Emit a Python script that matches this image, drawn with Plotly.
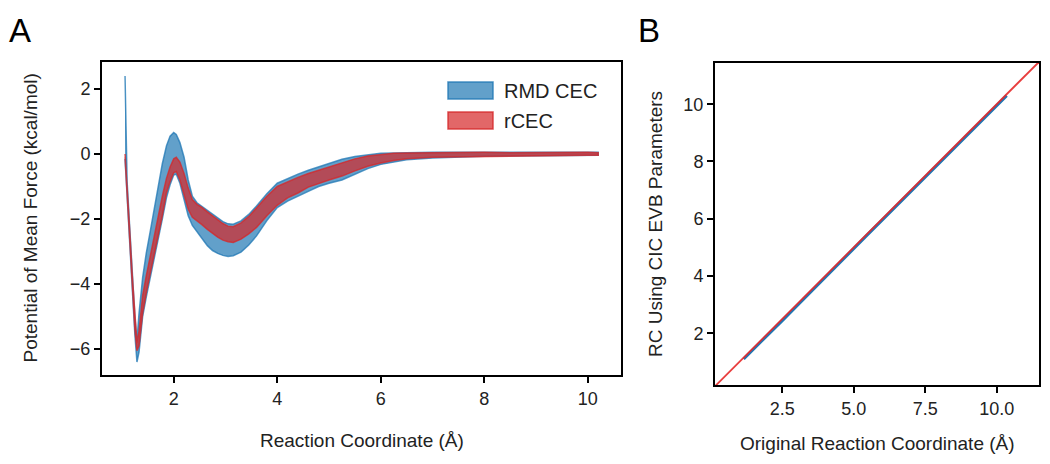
import plotly.graph_objects as go

# ---------------- Panel A data ----------------
rc_x = [1.06, 1.10, 1.15, 1.20, 1.25, 1.29, 1.33, 1.40, 1.47, 1.55, 1.62, 1.70, 1.78, 1.86, 1.93,
        2.00, 2.05, 2.12, 2.20, 2.28, 2.36, 2.45, 2.55, 2.65, 2.75, 2.85, 2.95, 3.05, 3.15, 3.30,
        3.45, 3.60, 3.80, 4.00, 4.20, 4.40, 4.60, 4.80, 5.00, 5.25, 5.50, 5.75, 6.00, 6.25, 6.50,
        7.00, 7.50, 8.00, 8.50, 9.00, 9.50, 10.00, 10.20]

rmd_lo = [-0.15, -1.30, -2.75, -4.15, -5.55, -6.40, -6.10, -5.00, -4.40, -3.75, -3.20, -2.60, -2.00, -1.35, -0.95,
          -0.65, -0.62, -0.90, -1.40, -1.90, -2.20, -2.40, -2.60, -2.82, -2.97, -3.06, -3.12, -3.15, -3.13, -3.02,
          -2.80, -2.52, -2.05, -1.65, -1.45, -1.30, -1.15, -1.00, -0.90, -0.80, -0.62, -0.45, -0.32, -0.24, -0.18,
          -0.12, -0.09, -0.07, -0.06, -0.06, -0.05, -0.04, -0.04]
rmd_hi = [2.40, -0.85, -2.25, -3.65, -5.00, -5.75, -4.90, -3.80, -3.05, -2.35, -1.75, -1.00, -0.30, 0.25, 0.55,
          0.66, 0.60, 0.35, -0.10, -0.80, -1.30, -1.50, -1.62, -1.72, -1.85, -1.97, -2.08, -2.15, -2.16, -2.06,
          -1.86, -1.60, -1.22, -0.90, -0.75, -0.62, -0.50, -0.40, -0.28, -0.16, -0.08, -0.02, 0.02, 0.03, 0.04,
          0.05, 0.05, 0.05, 0.05, 0.06, 0.05, 0.06, 0.05]

rcec_lo = [-0.10, -1.20, -2.65, -4.05, -5.40, -6.05, -5.90, -4.90, -4.28, -3.65, -3.10, -2.48, -1.90, -1.20, -0.85,
           -0.58, -0.54, -0.80, -1.25, -1.70, -1.95, -2.05, -2.18, -2.32, -2.45, -2.56, -2.65, -2.70, -2.72, -2.62,
           -2.46, -2.26, -1.90, -1.58, -1.35, -1.20, -1.02, -0.90, -0.80, -0.68, -0.52, -0.38, -0.28, -0.20, -0.15,
           -0.10, -0.08, -0.06, -0.06, -0.05, -0.05, -0.04, -0.04]
rcec_hi = [0.00, -0.95, -2.35, -3.75, -5.10, -5.80, -5.45, -4.35, -3.75, -3.10, -2.50, -1.85, -1.30, -0.75, -0.40,
           -0.15, -0.10, -0.25, -0.60, -1.05, -1.40, -1.55, -1.65, -1.78, -1.90, -2.02, -2.14, -2.22, -2.24, -2.12,
           -1.92, -1.66, -1.30, -1.00, -0.85, -0.72, -0.60, -0.50, -0.38, -0.26, -0.15, -0.06, -0.01, 0.02, 0.03,
           0.04, 0.04, 0.05, 0.04, 0.05, 0.04, 0.05, 0.04]

a_xticks = [2, 4, 6, 8, 10]
a_yticks = [-6, -4, -2, 0, 2]

# ---------------- Panel B data ----------------
orig_rc = [1.15, 1.50, 2.00, 2.50, 3.00, 3.50, 4.00, 4.50, 5.00, 5.50, 6.00, 6.50, 7.00, 7.50, 8.00,
           8.50, 9.00, 9.50, 10.00, 10.35]
cic_rc = [1.10, 1.44, 1.93, 2.44, 2.94, 3.45, 3.95, 4.45, 4.95, 5.46, 5.96, 6.46, 6.96, 7.46, 7.96,
          8.46, 8.96, 9.46, 9.95, 10.30]
diag = [0.0, 12.0]
b_xticks = [2.5, 5.0, 7.5, 10.0]
b_xticklabels = ["2.5", "5.0", "7.5", "10.0"]
b_yticks = [2, 4, 6, 8, 10]

legend_names = ["RMD CEC", "rCEC"]

BLUE = "31,119,180"
RED = "214,39,40"
FONT = "Liberation Sans, Arial, sans-serif"

fig = go.Figure()


def band(x, lo, hi, rgb, name):
    return go.Scatter(
        x=list(x) + list(x)[::-1],
        y=list(hi) + list(lo)[::-1],
        fill="toself",
        fillcolor=f"rgba({rgb},0.7)",
        line=dict(color=f"rgba({rgb},0.75)", width=1.5),
        mode="lines",
        name=name,
        showlegend=False,
        hoverinfo="skip",
        xaxis="x", yaxis="y",
    )


fig.add_trace(band(rc_x, rmd_lo, rmd_hi, BLUE, legend_names[0]))
fig.add_trace(band(rc_x, rcec_lo, rcec_hi, RED, legend_names[1]))

fig.add_trace(go.Scatter(x=orig_rc, y=cic_rc, mode="lines",
                         line=dict(color="rgb(31,119,180)", width=3),
                         showlegend=False, xaxis="x2", yaxis="y2"))
fig.add_trace(go.Scatter(x=diag, y=diag, mode="lines",
                         line=dict(color="rgba(230,40,40,0.9)", width=1.8),
                         showlegend=False, xaxis="x2", yaxis="y2"))

W, H = 1050, 464
A_L, A_R, A_T, A_B = 102, 621, 62, 375
B_L, B_R, B_T, B_B = 715, 1039, 63, 385

axis_common = dict(
    showline=True, linecolor="black", linewidth=2, mirror=True,
    ticks="outside", ticklen=6, tickwidth=2, tickcolor="black",
    showgrid=False, zeroline=False,
    tickfont=dict(family=FONT, size=18, color="#222"),
)

fig.update_layout(
    width=W, height=H,
    margin=dict(l=0, r=0, t=0, b=0),
    paper_bgcolor="white", plot_bgcolor="white",
    showlegend=False,
    xaxis=dict(domain=[A_L / W, A_R / W], range=[0.615, 10.64],
               tickvals=a_xticks, anchor="y", automargin=False, **axis_common),
    yaxis=dict(domain=[1 - A_B / H, 1 - A_T / H], range=[-6.8, 2.83],
               tickvals=a_yticks, anchor="x", automargin=False, **axis_common),
    xaxis2=dict(domain=[B_L / W, B_R / W], range=[0.147, 11.48],
                tickvals=b_xticks, ticktext=b_xticklabels, anchor="y2",
                automargin=False, **axis_common),
    yaxis2=dict(domain=[1 - B_B / H, 1 - B_T / H], range=[0.19, 11.44],
                tickvals=b_yticks, anchor="x2", automargin=False, **axis_common),
)

ann_font = dict(family=FONT, size=19, color="#222")
annotations = [
    dict(text="Reaction Coordinate (Å)", x=((A_L + A_R) / 2) / W, y=1 - 440 / H,
         xref="paper", yref="paper", showarrow=False, font=ann_font,
         xanchor="center", yanchor="middle"),
    dict(text="Potential of Mean Force (kcal/mol)", x=30 / W, y=1 - ((A_T + A_B) / 2) / H,
         xref="paper", yref="paper", showarrow=False, font=ann_font, textangle=-90,
         xanchor="center", yanchor="middle"),
    dict(text="Original Reaction Coordinate (Å)", x=((B_L + B_R) / 2) / W, y=1 - 443 / H,
         xref="paper", yref="paper", showarrow=False, font=ann_font,
         xanchor="center", yanchor="middle"),
    dict(text="RC Using CIC EVB Parameters", x=655 / W, y=1 - ((B_T + B_B) / 2) / H,
         xref="paper", yref="paper", showarrow=False, font=ann_font, textangle=-90,
         xanchor="center", yanchor="middle"),
    dict(text="A", x=20 / W, y=1 - 30 / H, xref="paper", yref="paper", showarrow=False,
         font=dict(family=FONT, size=33, color="black"), xanchor="center", yanchor="middle"),
    dict(text="B", x=649 / W, y=1 - 30 / H, xref="paper", yref="paper", showarrow=False,
         font=dict(family=FONT, size=33, color="black"), xanchor="center", yanchor="middle"),
]

# manual legend inside panel A
shapes = []
leg_rows = [(82, 99, BLUE, legend_names[0]), (112, 129, RED, legend_names[1])]
for top, bot, rgb, name in leg_rows:
    shapes.append(dict(type="rect", xref="x domain", yref="y domain",
                       x0=(448 - A_L) / (A_R - A_L), x1=(493 - A_L) / (A_R - A_L),
                       y0=(A_B - bot) / (A_B - A_T), y1=(A_B - top) / (A_B - A_T),
                       fillcolor=f"rgba({rgb},0.7)",
                       line=dict(color=f"rgba({rgb},0.8)", width=1.5)))
    annotations.append(dict(text=name, xref="x domain", yref="y domain",
                            x=(502 - A_L) / (A_R - A_L),
                            y=(A_B - (top + bot) / 2) / (A_B - A_T),
                            showarrow=False, xanchor="left", yanchor="middle",
                            font=dict(family=FONT, size=20, color="#222")))

fig.update_layout(annotations=annotations, shapes=shapes)

fig.write_html("out.html", config={"displayModeBar": False},
               post_script="document.body.style.margin='0';document.body.style.padding='0';")
